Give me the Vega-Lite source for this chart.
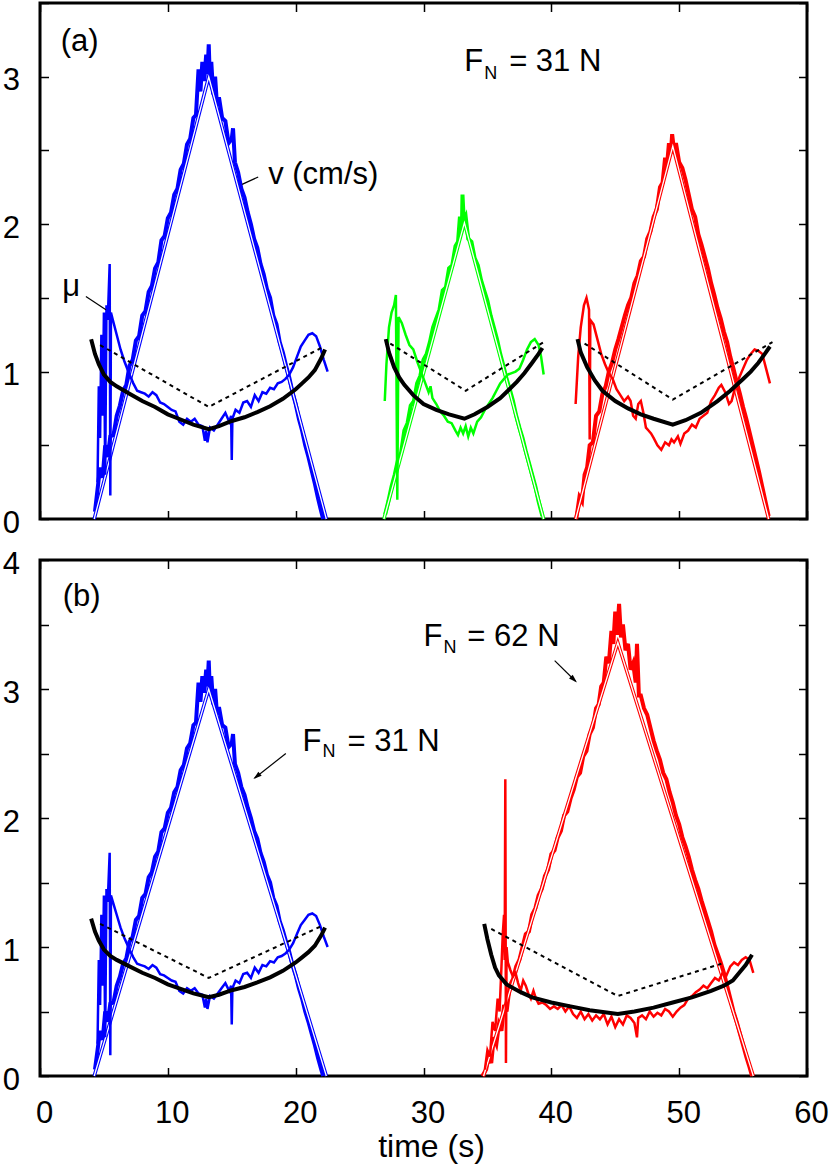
{
"$schema": "https://vega.github.io/schema/vega-lite/v6.json",
"background": "white",
"padding": {"left": 0, "top": 0, "right": 5, "bottom": 5},
"spacing": 41,
"bounds": "flush",
"config": {
  "font": "Liberation Sans",
  "view": {"stroke": "black", "strokeWidth": 3},
  "axis": {"domain": false, "grid": false, "ticks": true, "tickColor": "black", "tickWidth": 1.5, "tickSize": -8.5,
    "labelFont": "Liberation Sans", "labelFontSize": 31, "labelColor": "black",
    "titleFont": "Liberation Sans", "titleFontSize": 32, "titleFontWeight": "normal", "titleColor": "black"},
  "text": {"font": "Liberation Sans", "color": "black"}
},
"datasets": {
"v": [
{"run":"A","t":4.3,"val":0.05},{"run":"A","t":4.5,"val":0.2},{"run":"A","t":4.7,"val":0.35},{"run":"A","t":4.9,"val":0.28},{"run":"A","t":5.1,"val":0.5},{"run":"A","t":5.3,"val":0.42},{"run":"A","t":5.5,"val":0.56},{"run":"A","t":5.75,"val":0.57},{"run":"A","t":6.0,"val":0.7},{"run":"A","t":6.25,"val":0.77},{"run":"A","t":6.5,"val":0.87},{"run":"A","t":6.75,"val":0.91},{"run":"A","t":7.0,"val":1.04},{"run":"A","t":7.25,"val":1.08},{"run":"A","t":7.5,"val":1.21},{"run":"A","t":7.75,"val":1.24},{"run":"A","t":8.0,"val":1.38},{"run":"A","t":8.25,"val":1.41},{"run":"A","t":8.5,"val":1.54},{"run":"A","t":8.75,"val":1.58},{"run":"A","t":9.0,"val":1.7},{"run":"A","t":9.25,"val":1.74},{"run":"A","t":9.5,"val":1.89},{"run":"A","t":9.75,"val":1.92},{"run":"A","t":10.0,"val":2.04},{"run":"A","t":10.25,"val":2.08},{"run":"A","t":10.5,"val":2.2},{"run":"A","t":10.75,"val":2.24},{"run":"A","t":11.0,"val":2.37},{"run":"A","t":11.25,"val":2.41},{"run":"A","t":11.5,"val":2.54},{"run":"A","t":11.75,"val":2.58},{"run":"A","t":12.0,"val":2.72},{"run":"A","t":12.2,"val":2.74},{"run":"A","t":12.4,"val":3.05},{"run":"A","t":12.55,"val":2.9},{"run":"A","t":12.7,"val":3.1},{"run":"A","t":12.85,"val":2.97},{"run":"A","t":13.0,"val":3.15},{"run":"A","t":13.1,"val":3.02},{"run":"A","t":13.2,"val":3.22},{"run":"A","t":13.3,"val":2.95},{"run":"A","t":13.4,"val":3.1},{"run":"A","t":13.55,"val":2.88},{"run":"A","t":13.7,"val":3.0},{"run":"A","t":13.85,"val":2.8},{"run":"A","t":14.0,"val":2.86},{"run":"A","t":14.25,"val":2.72},{"run":"A","t":14.5,"val":2.7},{"run":"A","t":14.75,"val":2.55},{"run":"A","t":15.0,"val":2.58},{"run":"A","t":15.1,"val":2.65},{"run":"A","t":15.25,"val":2.42},{"run":"A","t":15.5,"val":2.35},{"run":"A","t":15.75,"val":2.24},{"run":"A","t":16.0,"val":2.18},{"run":"A","t":16.25,"val":2.08},{"run":"A","t":16.5,"val":2.0},{"run":"A","t":16.75,"val":1.9},{"run":"A","t":17.0,"val":1.84},{"run":"A","t":17.25,"val":1.73},{"run":"A","t":17.5,"val":1.66},{"run":"A","t":17.75,"val":1.56},{"run":"A","t":18.0,"val":1.5},{"run":"A","t":18.25,"val":1.38},{"run":"A","t":18.5,"val":1.32},{"run":"A","t":18.75,"val":1.2},{"run":"A","t":19.0,"val":1.13},{"run":"A","t":19.25,"val":1.04},{"run":"A","t":19.5,"val":0.96},{"run":"A","t":19.75,"val":0.86},{"run":"A","t":20.0,"val":0.78},{"run":"A","t":20.25,"val":0.68},{"run":"A","t":20.5,"val":0.6},{"run":"A","t":20.75,"val":0.5},{"run":"A","t":21.0,"val":0.42},{"run":"A","t":21.25,"val":0.33},{"run":"A","t":21.5,"val":0.24},{"run":"A","t":21.75,"val":0.14},{"run":"A","t":22.0,"val":0.05},{"run":"A","t":22.15,"val":0.0},
{"run":"B","t":27.0,"val":0.03},{"run":"B","t":27.25,"val":0.12},{"run":"B","t":27.5,"val":0.22},{"run":"B","t":27.75,"val":0.3},{"run":"B","t":28.0,"val":0.4},{"run":"B","t":28.25,"val":0.45},{"run":"B","t":28.5,"val":0.6},{"run":"B","t":28.75,"val":0.65},{"run":"B","t":29.0,"val":0.77},{"run":"B","t":29.25,"val":0.8},{"run":"B","t":29.5,"val":0.92},{"run":"B","t":29.75,"val":0.97},{"run":"B","t":30.0,"val":1.08},{"run":"B","t":30.25,"val":1.12},{"run":"B","t":30.5,"val":1.2},{"run":"B","t":30.75,"val":1.3},{"run":"B","t":31.0,"val":1.36},{"run":"B","t":31.25,"val":1.42},{"run":"B","t":31.5,"val":1.55},{"run":"B","t":31.75,"val":1.57},{"run":"B","t":32.0,"val":1.7},{"run":"B","t":32.25,"val":1.72},{"run":"B","t":32.5,"val":1.85},{"run":"B","t":32.7,"val":1.88},{"run":"B","t":32.85,"val":2.05},{"run":"B","t":33.0,"val":1.95},{"run":"B","t":33.05,"val":2.2},{"run":"B","t":33.15,"val":2.02},{"run":"B","t":33.3,"val":2.05},{"run":"B","t":33.5,"val":1.9},{"run":"B","t":33.75,"val":1.88},{"run":"B","t":34.0,"val":1.77},{"run":"B","t":34.25,"val":1.72},{"run":"B","t":34.5,"val":1.62},{"run":"B","t":34.75,"val":1.55},{"run":"B","t":35.0,"val":1.48},{"run":"B","t":35.25,"val":1.38},{"run":"B","t":35.5,"val":1.3},{"run":"B","t":35.75,"val":1.22},{"run":"B","t":36.0,"val":1.12},{"run":"B","t":36.25,"val":1.04},{"run":"B","t":36.5,"val":0.95},{"run":"B","t":36.75,"val":0.88},{"run":"B","t":37.0,"val":0.8},{"run":"B","t":37.25,"val":0.7},{"run":"B","t":37.5,"val":0.62},{"run":"B","t":37.75,"val":0.55},{"run":"B","t":38.0,"val":0.46},{"run":"B","t":38.25,"val":0.38},{"run":"B","t":38.5,"val":0.3},{"run":"B","t":38.75,"val":0.22},{"run":"B","t":39.0,"val":0.12},{"run":"B","t":39.3,"val":0.02},
{"run":"C","t":41.95,"val":0.0},{"run":"C","t":42.2,"val":0.15},{"run":"C","t":42.4,"val":0.12},{"run":"C","t":42.6,"val":0.3},{"run":"C","t":42.8,"val":0.35},{"run":"C","t":43.0,"val":0.5},{"run":"C","t":43.25,"val":0.52},{"run":"C","t":43.5,"val":0.7},{"run":"C","t":43.75,"val":0.73},{"run":"C","t":44.0,"val":0.85},{"run":"C","t":44.25,"val":0.9},{"run":"C","t":44.5,"val":1.0},{"run":"C","t":44.75,"val":1.06},{"run":"C","t":45.0,"val":1.15},{"run":"C","t":45.25,"val":1.22},{"run":"C","t":45.5,"val":1.3},{"run":"C","t":45.75,"val":1.38},{"run":"C","t":46.0,"val":1.45},{"run":"C","t":46.25,"val":1.5},{"run":"C","t":46.5,"val":1.6},{"run":"C","t":46.75,"val":1.65},{"run":"C","t":47.0,"val":1.75},{"run":"C","t":47.25,"val":1.78},{"run":"C","t":47.5,"val":1.9},{"run":"C","t":47.75,"val":1.95},{"run":"C","t":48.0,"val":2.05},{"run":"C","t":48.25,"val":2.1},{"run":"C","t":48.5,"val":2.25},{"run":"C","t":48.7,"val":2.28},{"run":"C","t":48.9,"val":2.45},{"run":"C","t":49.05,"val":2.4},{"run":"C","t":49.2,"val":2.55},{"run":"C","t":49.35,"val":2.48},{"run":"C","t":49.45,"val":2.61},{"run":"C","t":49.6,"val":2.5},{"run":"C","t":49.75,"val":2.55},{"run":"C","t":50.0,"val":2.42},{"run":"C","t":50.25,"val":2.38},{"run":"C","t":50.5,"val":2.3},{"run":"C","t":50.75,"val":2.2},{"run":"C","t":51.0,"val":2.1},{"run":"C","t":51.25,"val":2.05},{"run":"C","t":51.5,"val":1.93},{"run":"C","t":51.75,"val":1.86},{"run":"C","t":52.0,"val":1.78},{"run":"C","t":52.25,"val":1.7},{"run":"C","t":52.5,"val":1.6},{"run":"C","t":52.75,"val":1.52},{"run":"C","t":53.0,"val":1.43},{"run":"C","t":53.25,"val":1.36},{"run":"C","t":53.5,"val":1.27},{"run":"C","t":53.75,"val":1.2},{"run":"C","t":54.0,"val":1.1},{"run":"C","t":54.25,"val":1.02},{"run":"C","t":54.5,"val":0.93},{"run":"C","t":54.75,"val":0.85},{"run":"C","t":55.0,"val":0.76},{"run":"C","t":55.25,"val":0.68},{"run":"C","t":55.5,"val":0.59},{"run":"C","t":55.75,"val":0.5},{"run":"C","t":56.0,"val":0.41},{"run":"C","t":56.25,"val":0.32},{"run":"C","t":56.5,"val":0.22},{"run":"C","t":56.75,"val":0.12},{"run":"C","t":57.0,"val":0.02},
{"run":"D","t":34.6,"val":0.0},{"run":"D","t":34.9,"val":0.05},{"run":"D","t":35.1,"val":0.15},{"run":"D","t":35.3,"val":0.1},{"run":"D","t":35.5,"val":0.3},{"run":"D","t":35.7,"val":0.25},{"run":"D","t":35.9,"val":0.4},{"run":"D","t":36.1,"val":0.35},{"run":"D","t":36.3,"val":0.55},{"run":"D","t":36.5,"val":0.5},{"run":"D","t":36.75,"val":0.7},{"run":"D","t":37.0,"val":0.75},{"run":"D","t":37.25,"val":0.85},{"run":"D","t":37.5,"val":0.9},{"run":"D","t":37.75,"val":1.0},{"run":"D","t":38.0,"val":1.1},{"run":"D","t":38.25,"val":1.12},{"run":"D","t":38.5,"val":1.25},{"run":"D","t":38.75,"val":1.3},{"run":"D","t":39.0,"val":1.4},{"run":"D","t":39.25,"val":1.45},{"run":"D","t":39.5,"val":1.55},{"run":"D","t":39.75,"val":1.6},{"run":"D","t":40.0,"val":1.72},{"run":"D","t":40.25,"val":1.75},{"run":"D","t":40.5,"val":1.85},{"run":"D","t":40.75,"val":1.9},{"run":"D","t":41.0,"val":2.02},{"run":"D","t":41.25,"val":2.05},{"run":"D","t":41.5,"val":2.15},{"run":"D","t":41.75,"val":2.22},{"run":"D","t":42.0,"val":2.32},{"run":"D","t":42.25,"val":2.35},{"run":"D","t":42.5,"val":2.48},{"run":"D","t":42.75,"val":2.52},{"run":"D","t":43.0,"val":2.65},{"run":"D","t":43.25,"val":2.7},{"run":"D","t":43.5,"val":2.85},{"run":"D","t":43.7,"val":2.88},{"run":"D","t":43.9,"val":3.02},{"run":"D","t":44.1,"val":3.05},{"run":"D","t":44.3,"val":3.25},{"run":"D","t":44.5,"val":3.2},{"run":"D","t":44.7,"val":3.45},{"run":"D","t":44.85,"val":3.35},{"run":"D","t":45.0,"val":3.6},{"run":"D","t":45.15,"val":3.42},{"run":"D","t":45.3,"val":3.66},{"run":"D","t":45.45,"val":3.4},{"run":"D","t":45.6,"val":3.5},{"run":"D","t":45.8,"val":3.3},{"run":"D","t":46.0,"val":3.35},{"run":"D","t":46.2,"val":3.15},{"run":"D","t":46.4,"val":3.2},{"run":"D","t":46.6,"val":3.05},{"run":"D","t":46.7,"val":3.35},{"run":"D","t":46.85,"val":2.95},{"run":"D","t":47.0,"val":2.95},{"run":"D","t":47.25,"val":2.85},{"run":"D","t":47.5,"val":2.8},{"run":"D","t":47.75,"val":2.7},{"run":"D","t":48.0,"val":2.6},{"run":"D","t":48.25,"val":2.52},{"run":"D","t":48.5,"val":2.45},{"run":"D","t":48.75,"val":2.35},{"run":"D","t":49.0,"val":2.3},{"run":"D","t":49.25,"val":2.2},{"run":"D","t":49.5,"val":2.12},{"run":"D","t":49.75,"val":2.02},{"run":"D","t":50.0,"val":1.95},{"run":"D","t":50.25,"val":1.85},{"run":"D","t":50.5,"val":1.78},{"run":"D","t":50.75,"val":1.7},{"run":"D","t":51.0,"val":1.6},{"run":"D","t":51.25,"val":1.52},{"run":"D","t":51.5,"val":1.45},{"run":"D","t":51.75,"val":1.36},{"run":"D","t":52.0,"val":1.28},{"run":"D","t":52.25,"val":1.2},{"run":"D","t":52.5,"val":1.12},{"run":"D","t":52.75,"val":1.02},{"run":"D","t":53.0,"val":0.95},{"run":"D","t":53.25,"val":0.88},{"run":"D","t":53.5,"val":0.8},{"run":"D","t":53.75,"val":0.7},{"run":"D","t":54.0,"val":0.6},{"run":"D","t":54.25,"val":0.5},{"run":"D","t":54.5,"val":0.42},{"run":"D","t":54.75,"val":0.33},{"run":"D","t":55.0,"val":0.24},{"run":"D","t":55.25,"val":0.15},{"run":"D","t":55.5,"val":0.07},{"run":"D","t":55.7,"val":0.0}
],
"fit": [
{"run":"A","t":4.24,"val":0},{"run":"A","t":13.2,"val":3.0},{"run":"A","t":22.4,"val":0},
{"run":"B","t":26.9,"val":0},{"run":"B","t":33.2,"val":2.01},{"run":"B","t":39.4,"val":0},
{"run":"C","t":41.9,"val":0},{"run":"C","t":49.5,"val":2.53},{"run":"C","t":57.0,"val":0},
{"run":"D","t":34.7,"val":0},{"run":"D","t":45.2,"val":3.36},{"run":"D","t":55.8,"val":0}
],
"lin": [
{"run":"A","t":4.7,"val":1.18},{"run":"A","t":13.2,"val":0.76},{"run":"A","t":22.2,"val":1.17},
{"run":"B","t":27.4,"val":1.19},{"run":"B","t":33.3,"val":0.87},{"run":"B","t":39.4,"val":1.2},
{"run":"C","t":42.6,"val":1.19},{"run":"C","t":49.5,"val":0.81},{"run":"C","t":57.3,"val":1.2},
{"run":"D","t":35.3,"val":1.14},{"run":"D","t":45.2,"val":0.62},{"run":"D","t":53.3,"val":0.87}
],
"model": [
{"run":"A","t":4.0,"val":1.22},{"run":"A","t":4.3,"val":1.12},{"run":"A","t":4.6,"val":1.05},{"run":"A","t":5.0,"val":0.98},{"run":"A","t":5.5,"val":0.93},{"run":"A","t":6.0,"val":0.9},{"run":"A","t":7.0,"val":0.85},{"run":"A","t":8.0,"val":0.8},{"run":"A","t":9.0,"val":0.76},{"run":"A","t":10.0,"val":0.71},{"run":"A","t":11.0,"val":0.675},{"run":"A","t":12.0,"val":0.64},{"run":"A","t":13.2,"val":0.61},{"run":"A","t":14.0,"val":0.63},{"run":"A","t":15.0,"val":0.665},{"run":"A","t":16.0,"val":0.69},{"run":"A","t":17.0,"val":0.725},{"run":"A","t":18.0,"val":0.765},{"run":"A","t":19.0,"val":0.815},{"run":"A","t":20.0,"val":0.88},{"run":"A","t":20.5,"val":0.92},{"run":"A","t":21.0,"val":0.96},{"run":"A","t":21.5,"val":1.01},{"run":"A","t":22.0,"val":1.09},{"run":"A","t":22.3,"val":1.15},
{"run":"B","t":27.05,"val":1.22},{"run":"B","t":27.3,"val":1.13},{"run":"B","t":27.7,"val":1.03},{"run":"B","t":28.1,"val":0.96},{"run":"B","t":28.5,"val":0.91},{"run":"B","t":29.2,"val":0.84},{"run":"B","t":30.0,"val":0.78},{"run":"B","t":31.0,"val":0.74},{"run":"B","t":32.0,"val":0.71},{"run":"B","t":33.2,"val":0.68},{"run":"B","t":34.0,"val":0.71},{"run":"B","t":35.0,"val":0.76},{"run":"B","t":36.0,"val":0.82},{"run":"B","t":36.6,"val":0.87},{"run":"B","t":37.3,"val":0.93},{"run":"B","t":37.9,"val":0.99},{"run":"B","t":38.5,"val":1.06},{"run":"B","t":39.0,"val":1.12},{"run":"B","t":39.3,"val":1.16},
{"run":"C","t":42.05,"val":1.22},{"run":"C","t":42.3,"val":1.13},{"run":"C","t":42.8,"val":1.03},{"run":"C","t":43.4,"val":0.94},{"run":"C","t":44.0,"val":0.87},{"run":"C","t":45.0,"val":0.8},{"run":"C","t":46.0,"val":0.75},{"run":"C","t":47.0,"val":0.71},{"run":"C","t":48.0,"val":0.68},{"run":"C","t":49.5,"val":0.64},{"run":"C","t":50.5,"val":0.67},{"run":"C","t":51.7,"val":0.72},{"run":"C","t":53.0,"val":0.8},{"run":"C","t":54.0,"val":0.87},{"run":"C","t":55.0,"val":0.95},{"run":"C","t":55.6,"val":1.0},{"run":"C","t":56.2,"val":1.06},{"run":"C","t":56.7,"val":1.12},{"run":"C","t":57.1,"val":1.17},
{"run":"D","t":34.75,"val":1.18},{"run":"D","t":35.0,"val":1.06},{"run":"D","t":35.3,"val":0.94},{"run":"D","t":35.6,"val":0.84},{"run":"D","t":35.9,"val":0.78},{"run":"D","t":36.5,"val":0.71},{"run":"D","t":37.6,"val":0.65},{"run":"D","t":38.5,"val":0.61},{"run":"D","t":40.0,"val":0.57},{"run":"D","t":41.5,"val":0.54},{"run":"D","t":43.0,"val":0.51},{"run":"D","t":45.2,"val":0.48},{"run":"D","t":46.5,"val":0.5},{"run":"D","t":48.0,"val":0.53},{"run":"D","t":49.5,"val":0.57},{"run":"D","t":51.0,"val":0.61},{"run":"D","t":52.5,"val":0.66},{"run":"D","t":53.5,"val":0.7},{"run":"D","t":54.2,"val":0.74},{"run":"D","t":54.7,"val":0.8},{"run":"D","t":55.2,"val":0.86},{"run":"D","t":55.7,"val":0.94}
],
"mu": [
{"run":"A","t":4.5,"val":0.25},{"run":"A","t":4.6,"val":0.9},{"run":"A","t":4.7,"val":0.55},{"run":"A","t":4.8,"val":1.25},{"run":"A","t":4.9,"val":0.7},{"run":"A","t":5.0,"val":1.4},{"run":"A","t":5.1,"val":0.3},{"run":"A","t":5.2,"val":1.45},{"run":"A","t":5.3,"val":1.35},{"run":"A","t":5.45,"val":1.73},{"run":"A","t":5.5,"val":0.16},{"run":"A","t":5.55,"val":1.4},{"run":"A","t":5.7,"val":1.35},{"run":"A","t":6.0,"val":1.25},{"run":"A","t":6.3,"val":1.15},{"run":"A","t":6.6,"val":1.07},{"run":"A","t":7.0,"val":0.98},{"run":"A","t":7.3,"val":0.92},{"run":"A","t":7.6,"val":0.87},{"run":"A","t":7.9,"val":0.86},{"run":"A","t":8.2,"val":0.85},{"run":"A","t":8.5,"val":0.83},{"run":"A","t":8.8,"val":0.86},{"run":"A","t":9.1,"val":0.84},{"run":"A","t":9.4,"val":0.79},{"run":"A","t":9.7,"val":0.78},{"run":"A","t":10.0,"val":0.76},{"run":"A","t":10.3,"val":0.74},{"run":"A","t":10.6,"val":0.73},{"run":"A","t":10.9,"val":0.66},{"run":"A","t":11.2,"val":0.64},{"run":"A","t":11.5,"val":0.68},{"run":"A","t":11.8,"val":0.66},{"run":"A","t":12.1,"val":0.68},{"run":"A","t":12.4,"val":0.64},{"run":"A","t":12.7,"val":0.63},{"run":"A","t":12.9,"val":0.53},{"run":"A","t":13.0,"val":0.6},{"run":"A","t":13.1,"val":0.52},{"run":"A","t":13.3,"val":0.62},{"run":"A","t":13.6,"val":0.6},{"run":"A","t":13.9,"val":0.64},{"run":"A","t":14.2,"val":0.68},{"run":"A","t":14.5,"val":0.72},{"run":"A","t":14.8,"val":0.66},{"run":"A","t":14.95,"val":0.7},{"run":"A","t":15.0,"val":0.4},{"run":"A","t":15.05,"val":0.68},{"run":"A","t":15.3,"val":0.74},{"run":"A","t":15.6,"val":0.72},{"run":"A","t":15.9,"val":0.79},{"run":"A","t":16.2,"val":0.8},{"run":"A","t":16.5,"val":0.76},{"run":"A","t":16.8,"val":0.84},{"run":"A","t":17.1,"val":0.8},{"run":"A","t":17.4,"val":0.86},{"run":"A","t":17.7,"val":0.85},{"run":"A","t":18.0,"val":0.89},{"run":"A","t":18.3,"val":0.88},{"run":"A","t":18.6,"val":0.92},{"run":"A","t":18.9,"val":0.93},{"run":"A","t":19.2,"val":0.95},{"run":"A","t":19.5,"val":0.98},{"run":"A","t":19.8,"val":1.03},{"run":"A","t":20.1,"val":1.1},{"run":"A","t":20.4,"val":1.17},{"run":"A","t":20.7,"val":1.21},{"run":"A","t":21.0,"val":1.25},{"run":"A","t":21.3,"val":1.26},{"run":"A","t":21.6,"val":1.24},{"run":"A","t":21.9,"val":1.17},{"run":"A","t":22.2,"val":1.08},{"run":"A","t":22.5,"val":1.0},
{"run":"B","t":26.97,"val":0.8},{"run":"B","t":27.1,"val":1.05},{"run":"B","t":27.3,"val":1.3},{"run":"B","t":27.5,"val":1.4},{"run":"B","t":27.7,"val":1.45},{"run":"B","t":27.84,"val":1.52},{"run":"B","t":27.95,"val":0.13},{"run":"B","t":28.05,"val":1.37},{"run":"B","t":28.3,"val":1.33},{"run":"B","t":28.6,"val":1.25},{"run":"B","t":28.9,"val":1.18},{"run":"B","t":29.2,"val":1.15},{"run":"B","t":29.5,"val":1.07},{"run":"B","t":29.8,"val":1.0},{"run":"B","t":30.1,"val":0.93},{"run":"B","t":30.4,"val":0.86},{"run":"B","t":30.55,"val":0.9},{"run":"B","t":30.7,"val":0.82},{"run":"B","t":31.0,"val":0.78},{"run":"B","t":31.3,"val":0.73},{"run":"B","t":31.6,"val":0.7},{"run":"B","t":31.9,"val":0.66},{"run":"B","t":32.2,"val":0.65},{"run":"B","t":32.5,"val":0.6},{"run":"B","t":32.7,"val":0.57},{"run":"B","t":32.9,"val":0.62},{"run":"B","t":33.1,"val":0.58},{"run":"B","t":33.3,"val":0.63},{"run":"B","t":33.5,"val":0.56},{"run":"B","t":33.7,"val":0.62},{"run":"B","t":33.9,"val":0.58},{"run":"B","t":34.2,"val":0.66},{"run":"B","t":34.5,"val":0.69},{"run":"B","t":34.8,"val":0.74},{"run":"B","t":35.1,"val":0.78},{"run":"B","t":35.4,"val":0.82},{"run":"B","t":35.7,"val":0.87},{"run":"B","t":36.0,"val":0.92},{"run":"B","t":36.3,"val":0.95},{"run":"B","t":36.6,"val":0.98},{"run":"B","t":36.9,"val":0.99},{"run":"B","t":37.2,"val":1.0},{"run":"B","t":37.5,"val":1.02},{"run":"B","t":37.8,"val":1.08},{"run":"B","t":38.1,"val":1.15},{"run":"B","t":38.4,"val":1.2},{"run":"B","t":38.7,"val":1.22},{"run":"B","t":39.0,"val":1.18},{"run":"B","t":39.2,"val":1.1},{"run":"B","t":39.4,"val":0.98},
{"run":"C","t":41.9,"val":0.78},{"run":"C","t":42.1,"val":1.1},{"run":"C","t":42.3,"val":1.3},{"run":"C","t":42.55,"val":1.45},{"run":"C","t":42.75,"val":1.5},{"run":"C","t":42.95,"val":1.42},{"run":"C","t":43.0,"val":0.54},{"run":"C","t":43.05,"val":1.35},{"run":"C","t":43.3,"val":1.32},{"run":"C","t":43.6,"val":1.22},{"run":"C","t":43.9,"val":1.12},{"run":"C","t":44.2,"val":1.05},{"run":"C","t":44.5,"val":0.99},{"run":"C","t":44.8,"val":0.95},{"run":"C","t":45.1,"val":0.88},{"run":"C","t":45.4,"val":0.84},{"run":"C","t":45.7,"val":0.8},{"run":"C","t":46.0,"val":0.83},{"run":"C","t":46.2,"val":0.8},{"run":"C","t":46.4,"val":0.7},{"run":"C","t":46.6,"val":0.68},{"run":"C","t":46.8,"val":0.78},{"run":"C","t":47.0,"val":0.8},{"run":"C","t":47.2,"val":0.72},{"run":"C","t":47.4,"val":0.62},{"run":"C","t":47.6,"val":0.6},{"run":"C","t":47.8,"val":0.58},{"run":"C","t":48.0,"val":0.55},{"run":"C","t":48.3,"val":0.5},{"run":"C","t":48.6,"val":0.47},{"run":"C","t":48.9,"val":0.52},{"run":"C","t":49.2,"val":0.5},{"run":"C","t":49.4,"val":0.54},{"run":"C","t":49.6,"val":0.52},{"run":"C","t":49.9,"val":0.56},{"run":"C","t":50.1,"val":0.51},{"run":"C","t":50.4,"val":0.58},{"run":"C","t":50.7,"val":0.6},{"run":"C","t":51.0,"val":0.64},{"run":"C","t":51.3,"val":0.62},{"run":"C","t":51.6,"val":0.68},{"run":"C","t":51.9,"val":0.7},{"run":"C","t":52.2,"val":0.72},{"run":"C","t":52.5,"val":0.8},{"run":"C","t":52.8,"val":0.84},{"run":"C","t":53.1,"val":0.89},{"run":"C","t":53.3,"val":0.91},{"run":"C","t":53.6,"val":0.86},{"run":"C","t":53.9,"val":0.78},{"run":"C","t":54.1,"val":0.8},{"run":"C","t":54.4,"val":0.9},{"run":"C","t":54.7,"val":0.96},{"run":"C","t":55.0,"val":1.02},{"run":"C","t":55.3,"val":1.08},{"run":"C","t":55.6,"val":1.12},{"run":"C","t":55.9,"val":1.15},{"run":"C","t":56.2,"val":1.14},{"run":"C","t":56.5,"val":1.12},{"run":"C","t":56.8,"val":1.02},{"run":"C","t":57.1,"val":0.92},
{"run":"D","t":34.8,"val":0.05},{"run":"D","t":35.0,"val":0.2},{"run":"D","t":35.2,"val":0.15},{"run":"D","t":35.4,"val":0.42},{"run":"D","t":35.6,"val":0.35},{"run":"D","t":35.8,"val":0.6},{"run":"D","t":35.95,"val":0.5},{"run":"D","t":36.1,"val":0.85},{"run":"D","t":36.2,"val":1.1},{"run":"D","t":36.3,"val":1.25},{"run":"D","t":36.35,"val":0.9},{"run":"D","t":36.4,"val":2.3},{"run":"D","t":36.45,"val":0.1},{"run":"D","t":36.5,"val":1.0},{"run":"D","t":36.6,"val":0.88},{"run":"D","t":36.8,"val":0.82},{"run":"D","t":37.0,"val":0.77},{"run":"D","t":37.2,"val":0.8},{"run":"D","t":37.4,"val":0.72},{"run":"D","t":37.6,"val":0.66},{"run":"D","t":37.8,"val":0.74},{"run":"D","t":38.0,"val":0.7},{"run":"D","t":38.2,"val":0.64},{"run":"D","t":38.4,"val":0.6},{"run":"D","t":38.6,"val":0.66},{"run":"D","t":38.8,"val":0.6},{"run":"D","t":39.0,"val":0.56},{"run":"D","t":39.3,"val":0.57},{"run":"D","t":39.6,"val":0.55},{"run":"D","t":39.9,"val":0.52},{"run":"D","t":40.2,"val":0.54},{"run":"D","t":40.5,"val":0.52},{"run":"D","t":40.8,"val":0.55},{"run":"D","t":41.1,"val":0.5},{"run":"D","t":41.4,"val":0.54},{"run":"D","t":41.7,"val":0.48},{"run":"D","t":42.0,"val":0.45},{"run":"D","t":42.3,"val":0.5},{"run":"D","t":42.6,"val":0.44},{"run":"D","t":42.9,"val":0.48},{"run":"D","t":43.2,"val":0.43},{"run":"D","t":43.5,"val":0.47},{"run":"D","t":43.8,"val":0.44},{"run":"D","t":44.1,"val":0.48},{"run":"D","t":44.4,"val":0.4},{"run":"D","t":44.7,"val":0.46},{"run":"D","t":45.0,"val":0.38},{"run":"D","t":45.3,"val":0.44},{"run":"D","t":45.6,"val":0.4},{"run":"D","t":45.9,"val":0.47},{"run":"D","t":46.2,"val":0.45},{"run":"D","t":46.5,"val":0.41},{"run":"D","t":46.7,"val":0.3},{"run":"D","t":46.8,"val":0.45},{"run":"D","t":47.1,"val":0.47},{"run":"D","t":47.4,"val":0.44},{"run":"D","t":47.7,"val":0.5},{"run":"D","t":48.0,"val":0.46},{"run":"D","t":48.3,"val":0.49},{"run":"D","t":48.6,"val":0.47},{"run":"D","t":48.9,"val":0.52},{"run":"D","t":49.2,"val":0.5},{"run":"D","t":49.5,"val":0.46},{"run":"D","t":49.8,"val":0.5},{"run":"D","t":50.1,"val":0.53},{"run":"D","t":50.4,"val":0.55},{"run":"D","t":50.7,"val":0.6},{"run":"D","t":51.0,"val":0.62},{"run":"D","t":51.3,"val":0.65},{"run":"D","t":51.6,"val":0.67},{"run":"D","t":51.9,"val":0.7},{"run":"D","t":52.2,"val":0.68},{"run":"D","t":52.5,"val":0.72},{"run":"D","t":52.8,"val":0.76},{"run":"D","t":53.1,"val":0.74},{"run":"D","t":53.4,"val":0.8},{"run":"D","t":53.7,"val":0.78},{"run":"D","t":54.0,"val":0.85},{"run":"D","t":54.3,"val":0.88},{"run":"D","t":54.6,"val":0.86},{"run":"D","t":54.9,"val":0.9},{"run":"D","t":55.2,"val":0.92},{"run":"D","t":55.5,"val":0.9},{"run":"D","t":55.8,"val":0.8}
],
"notes": [
{"panel":"a","role":"main","t":1.62,"val":3.175,"label":"(a)"},
{"panel":"a","role":"main","t":33.18,"val":3.04,"label":"F"},
{"panel":"a","role":"sub","t":34.75,"val":2.985,"label":"N"},
{"panel":"a","role":"main","t":36.7,"val":3.04,"label":"= 31 N"},
{"panel":"a","role":"main","t":17.85,"val":2.27,"label":"v (cm/s)"},
{"panel":"a","role":"main","t":1.75,"val":1.51,"label":"μ"},
{"panel":"b","role":"main","t":1.78,"val":3.64,"label":"(b)"},
{"panel":"b","role":"main","t":30.0,"val":3.33,"label":"F"},
{"panel":"b","role":"sub","t":31.57,"val":3.28,"label":"N"},
{"panel":"b","role":"main","t":33.43,"val":3.33,"label":"= 62 N"},
{"panel":"b","role":"main","t":20.53,"val":2.52,"label":"F"},
{"panel":"b","role":"sub","t":22.1,"val":2.47,"label":"N"},
{"panel":"b","role":"main","t":24.05,"val":2.52,"label":"= 31 N"}
],
"leaders": [
{"panel":"a","t":17.07,"val":2.32,"t2":15.81,"val2":2.27},
{"panel":"a","t":3.59,"val":1.51,"t2":5.16,"val2":1.42},
{"panel":"b","t":40.26,"val":3.22,"t2":41.9,"val2":3.06},
{"panel":"b","t":19.23,"val":2.5,"t2":16.8,"val2":2.31}
],
"heads": [
{"dir":"dr","t":41.74,"val":3.076},
{"dir":"dl","t":16.98,"val":2.325}
]
},
"vconcat": [
{
 "width": 767, "height": 516,
 "resolve": {"axis": {"x": "independent", "y": "independent"}},
 "layer": [
  {"data": {"name": "v"}, "transform": [{"filter": {"field": "run", "oneOf": ["A","B","C"]}}],
   "mark": {"type": "line", "strokeWidth": 4},
   "encoding": {
    "x": {"field": "t", "type": "quantitative", "scale": {"domain": [0, 60]}, "axis": {"orient": "bottom", "values": [0,10,20,30,40,50,60], "labels": false, "title": null}},
    "y": {"field": "val", "type": "quantitative", "scale": {"domain": [0, 3.5]}, "axis": {"orient": "left", "values": [0,0.5,1,1.5,2,2.5,3,3.5], "labelExpr": "datum.value % 1 === 0 ? '' + datum.value : ''", "labelPadding": 29, "labelOffset": 4, "title": null}},
    "color": {"field": "run", "type": "nominal", "scale": {"domain": ["A","B","C","D"], "range": ["#0000ff","#00ff00","#ff0000","#ff0000"]}, "legend": null}
   }},
  {"data": {"name": "fit"}, "transform": [{"filter": {"field": "run", "oneOf": ["A","B","C"]}}],
   "mark": {"type": "line", "strokeWidth": 3.5},
   "encoding": {
    "x": {"field": "t", "type": "quantitative", "scale": {"domain": [0, 60]}, "axis": {"orient": "top", "values": [0,10,20,30,40,50,60], "labels": false, "title": null}},
    "y": {"field": "val", "type": "quantitative", "scale": {"domain": [0, 3.5]}, "axis": {"orient": "right", "values": [0,0.5,1,1.5,2,2.5,3,3.5], "labels": false, "title": null}},
    "color": {"field": "run", "type": "nominal", "legend": null}
   }},
  {"data": {"name": "fit"}, "transform": [{"filter": {"field": "run", "oneOf": ["A","B","C"]}}],
   "mark": {"type": "line", "strokeWidth": 1.3, "color": "white"},
   "encoding": {"x": {"field": "t", "type": "quantitative", "axis": null}, "y": {"field": "val", "type": "quantitative", "axis": null}, "detail": {"field": "run"}}},
  {"data": {"name": "mu"}, "transform": [{"filter": {"field": "run", "oneOf": ["A","B","C"]}}],
   "mark": {"type": "line", "strokeWidth": 2.5},
   "encoding": {"x": {"field": "t", "type": "quantitative", "axis": null}, "y": {"field": "val", "type": "quantitative", "axis": null}, "color": {"field": "run", "type": "nominal", "legend": null}}},
  {"data": {"name": "lin"}, "transform": [{"filter": {"field": "run", "oneOf": ["A","B","C"]}}],
   "mark": {"type": "line", "strokeWidth": 2, "strokeDash": [4, 4], "color": "black"},
   "encoding": {"x": {"field": "t", "type": "quantitative", "axis": null}, "y": {"field": "val", "type": "quantitative", "axis": null}, "detail": {"field": "run"}}},
  {"data": {"name": "model"}, "transform": [{"filter": {"field": "run", "oneOf": ["A","B","C"]}}],
   "mark": {"type": "line", "strokeWidth": 4, "color": "black"},
   "encoding": {"x": {"field": "t", "type": "quantitative", "axis": null}, "y": {"field": "val", "type": "quantitative", "axis": null}, "detail": {"field": "run"}}},
  {"data": {"name": "leaders"}, "transform": [{"filter": "datum.panel === 'a'"}],
   "mark": {"type": "rule", "strokeWidth": 1.2, "color": "black"},
   "encoding": {"x": {"field": "t", "type": "quantitative", "axis": null}, "y": {"field": "val", "type": "quantitative", "axis": null}, "x2": {"field": "t2"}, "y2": {"field": "val2"}}},
  {"data": {"name": "notes"}, "transform": [{"filter": "datum.panel === 'a' && datum.role === 'main'"}],
   "mark": {"type": "text", "fontSize": 31, "align": "left", "baseline": "alphabetic"},
   "encoding": {"x": {"field": "t", "type": "quantitative", "axis": null}, "y": {"field": "val", "type": "quantitative", "axis": null}, "text": {"field": "label"}}},
  {"data": {"name": "notes"}, "transform": [{"filter": "datum.panel === 'a' && datum.role === 'sub'"}],
   "mark": {"type": "text", "fontSize": 18, "align": "left", "baseline": "alphabetic"},
   "encoding": {"x": {"field": "t", "type": "quantitative", "axis": null}, "y": {"field": "val", "type": "quantitative", "axis": null}, "text": {"field": "label"}}}
 ]
},
{
 "width": 767, "height": 516,
 "resolve": {"axis": {"x": "independent", "y": "independent"}},
 "layer": [
  {"data": {"name": "v"}, "transform": [{"filter": {"field": "run", "oneOf": ["A","D"]}}],
   "mark": {"type": "line", "strokeWidth": 4},
   "encoding": {
    "x": {"field": "t", "type": "quantitative", "scale": {"domain": [0, 60]}, "axis": {"orient": "bottom", "values": [0,10,20,30,40,50,60], "labelPadding": 31, "labelOffset": 4, "labelFlush": false, "labelBaseline": "top", "title": "time (s)", "titleY": 80.5, "titleBaseline": "alphabetic", "titleX": 391, "titleAlign": "center", "titleAnchor": null}},
    "y": {"field": "val", "type": "quantitative", "scale": {"domain": [0, 4]}, "axis": {"orient": "left", "values": [0,0.5,1,1.5,2,2.5,3,3.5,4], "labelExpr": "datum.value % 1 === 0 ? '' + datum.value : ''", "labelPadding": 29, "labelOffset": 4, "title": null}},
    "color": {"field": "run", "type": "nominal", "scale": {"domain": ["A","B","C","D"], "range": ["#0000ff","#00ff00","#ff0000","#ff0000"]}, "legend": null}
   }},
  {"data": {"name": "fit"}, "transform": [{"filter": {"field": "run", "oneOf": ["A","D"]}}],
   "mark": {"type": "line", "strokeWidth": 3.5},
   "encoding": {
    "x": {"field": "t", "type": "quantitative", "scale": {"domain": [0, 60]}, "axis": {"orient": "top", "values": [0,10,20,30,40,50,60], "labels": false, "title": null}},
    "y": {"field": "val", "type": "quantitative", "scale": {"domain": [0, 4]}, "axis": {"orient": "right", "values": [0,0.5,1,1.5,2,2.5,3,3.5,4], "labels": false, "title": null}},
    "color": {"field": "run", "type": "nominal", "legend": null}
   }},
  {"data": {"name": "fit"}, "transform": [{"filter": {"field": "run", "oneOf": ["A","D"]}}],
   "mark": {"type": "line", "strokeWidth": 1.3, "color": "white"},
   "encoding": {"x": {"field": "t", "type": "quantitative", "axis": null}, "y": {"field": "val", "type": "quantitative", "axis": null}, "detail": {"field": "run"}}},
  {"data": {"name": "mu"}, "transform": [{"filter": {"field": "run", "oneOf": ["A","D"]}}],
   "mark": {"type": "line", "strokeWidth": 2.5},
   "encoding": {"x": {"field": "t", "type": "quantitative", "axis": null}, "y": {"field": "val", "type": "quantitative", "axis": null}, "color": {"field": "run", "type": "nominal", "legend": null}}},
  {"data": {"name": "lin"}, "transform": [{"filter": {"field": "run", "oneOf": ["A","D"]}}],
   "mark": {"type": "line", "strokeWidth": 2, "strokeDash": [4, 4], "color": "black"},
   "encoding": {"x": {"field": "t", "type": "quantitative", "axis": null}, "y": {"field": "val", "type": "quantitative", "axis": null}, "detail": {"field": "run"}}},
  {"data": {"name": "model"}, "transform": [{"filter": {"field": "run", "oneOf": ["A","D"]}}],
   "mark": {"type": "line", "strokeWidth": 4, "color": "black"},
   "encoding": {"x": {"field": "t", "type": "quantitative", "axis": null}, "y": {"field": "val", "type": "quantitative", "axis": null}, "detail": {"field": "run"}}},
  {"data": {"name": "leaders"}, "transform": [{"filter": "datum.panel === 'b'"}],
   "mark": {"type": "rule", "strokeWidth": 1.2, "color": "black"},
   "encoding": {"x": {"field": "t", "type": "quantitative", "axis": null}, "y": {"field": "val", "type": "quantitative", "axis": null}, "x2": {"field": "t2"}, "y2": {"field": "val2"}}},
  {"data": {"name": "heads"}, "transform": [{"filter": "datum.dir === 'dr'"}],
   "mark": {"type": "point", "shape": "M0,-1L0.55,0.8L-0.55,0.8Z", "filled": true, "color": "black", "opacity": 1, "size": 90, "angle": 134},
   "encoding": {"x": {"field": "t", "type": "quantitative", "axis": null}, "y": {"field": "val", "type": "quantitative", "axis": null}}},
  {"data": {"name": "heads"}, "transform": [{"filter": "datum.dir === 'dl'"}],
   "mark": {"type": "point", "shape": "M0,-1L0.55,0.8L-0.55,0.8Z", "filled": true, "color": "black", "opacity": 1, "size": 90, "angle": 231},
   "encoding": {"x": {"field": "t", "type": "quantitative", "axis": null}, "y": {"field": "val", "type": "quantitative", "axis": null}}},
  {"data": {"name": "notes"}, "transform": [{"filter": "datum.panel === 'b' && datum.role === 'main'"}],
   "mark": {"type": "text", "fontSize": 31, "align": "left", "baseline": "alphabetic"},
   "encoding": {"x": {"field": "t", "type": "quantitative", "axis": null}, "y": {"field": "val", "type": "quantitative", "axis": null}, "text": {"field": "label"}}},
  {"data": {"name": "notes"}, "transform": [{"filter": "datum.panel === 'b' && datum.role === 'sub'"}],
   "mark": {"type": "text", "fontSize": 18, "align": "left", "baseline": "alphabetic"},
   "encoding": {"x": {"field": "t", "type": "quantitative", "axis": null}, "y": {"field": "val", "type": "quantitative", "axis": null}, "text": {"field": "label"}}}
 ]
}
]
}
